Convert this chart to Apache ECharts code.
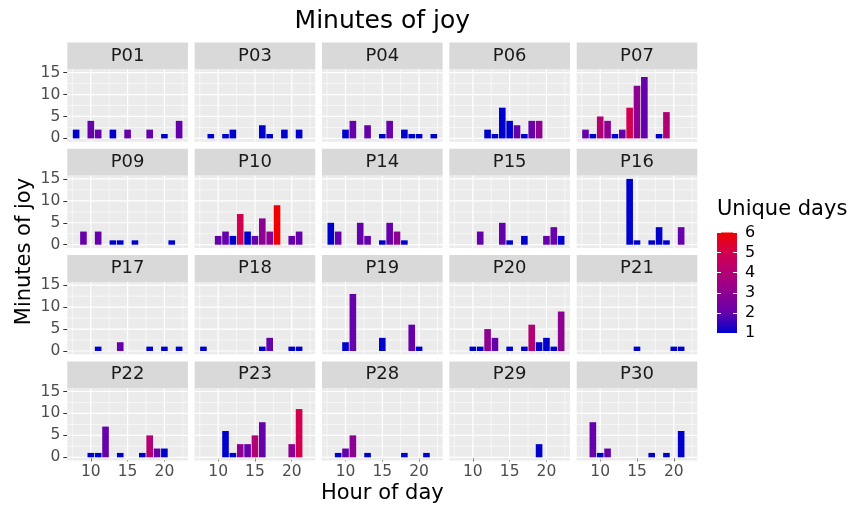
<!DOCTYPE html>
<html><head><meta charset="utf-8">
<script src="https://cdn.jsdelivr.net/npm/echarts@6/dist/echarts.min.js"></script>
<style>html,body{margin:0;padding:0;background:#fff}#c{width:850px;height:511px}</style>
</head><body><div id="c"></div>
<script>
// ---- data: [hour of day, minutes of joy, unique days] ----
const panelNames = ['P01','P03','P04','P06','P07','P09','P10','P14','P15','P16','P17','P18','P19','P20','P21','P22','P23','P28','P29','P30'];
const P01 = [[8,2,1],[10,4,2],[11,2,2],[13,2,1],[15,2,2],[18,2,2],[20,1,1],[22,4,2]];
const P03 = [[9,1,1],[11,1,1],[12,2,1],[16,3,1],[17,1,1],[19,2,1],[21,2,1]];
const P04 = [[10,2,1],[11,4,2],[13,3,2],[15,1,1],[16,4,2],[18,2,1],[19,1,1],[20,1,1],[22,1,1]];
const P06 = [[12,2,1],[13,1,1],[14,7,1],[15,4,1],[16,3,2],[17,1,1],[18,4,2],[19,4,3]];
const P07 = [[8,2,2],[9,1,1],[10,5,4],[11,4,3],[12,1,1],[13,2,2],[14,7,5],[15,12,3],[16,14,2],[18,1,1],[19,6,4]];
const P09 = [[9,3,2],[11,3,2],[13,1,1],[14,1,1],[16,1,1],[21,1,1]];
const P10 = [[10,2,2],[11,3,2],[12,2,1],[13,7,5],[14,3,1],[15,2,2],[16,6,3],[17,3,3],[18,9,6],[20,2,2],[21,3,2]];
const P14 = [[8,5,1],[9,3,2],[12,5,2],[13,2,2],[15,1,1],[16,5,2],[17,3,3],[18,1,1]];
const P15 = [[11,3,2],[14,5,2],[15,1,1],[17,2,1],[20,2,2],[21,4,2],[22,2,1]];
const P16 = [[14,15,1],[15,1,1],[17,1,1],[18,4,1],[19,1,1],[21,4,2]];
const P17 = [[11,1,1],[14,2,2],[18,1,1],[20,1,1],[22,1,1]];
const P18 = [[8,1,1],[16,1,1],[17,3,2],[20,1,1],[21,1,1]];
const P19 = [[10,2,1],[11,13,2],[15,3,1],[19,6,2],[20,1,1]];
const P20 = [[10,1,1],[11,1,1],[12,5,3],[13,3,2],[15,1,1],[17,1,1],[18,6,4],[19,2,1],[20,3,1],[21,1,1],[22,9,3]];
const P21 = [[15,1,1],[20,1,1],[21,1,1]];
const P22 = [[10,1,1],[11,1,1],[12,7,2],[14,1,1],[17,1,1],[18,5,4],[19,2,2],[20,2,1]];
const P23 = [[11,6,1],[12,1,1],[13,3,3],[14,3,2],[15,5,4],[16,8,2],[20,3,3],[21,11,5]];
const P28 = [[9,1,1],[10,2,2],[11,5,3],[13,1,1],[18,1,1],[21,1,1]];
const P29 = [[19,3,1]];
const P30 = [[9,8,2],[10,1,1],[11,2,2],[17,1,1],[19,1,1],[21,6,1]];
const panelData = [P01,P03,P04,P06,P07,P09,P10,P14,P15,P16,P17,P18,P19,P20,P21,P22,P23,P28,P29,P30];
const xTicks = [10,15,20];
const xMinor = [7.5,12.5,17.5,22.5];
const yTicks = [0,5,10,15];
const yMinor = [2.5,7.5,12.5];
const legendTicks = [1,2,3,4,5,6];
const legendColors = ['#0000CD','#6600AA','#8E0092','#B20075','#D20050','#F00000'];

// ---- layout / style ----
const X_MIN = 6.805, X_MAX = 23.195, Y_MIN = -0.75, Y_MAX = 15.75, BAR_W = 0.9;
const L0 = 67.3, DX = 127.35, PW = 120.6, T0 = 69.3, DY = 106.3, PH = 72.4, SH = 26.8;
const FONT = 'DejaVu Sans';

function gridRender(params, api){
  const ch = [];
  const add = (x1,y1,x2,y2,w) => {
    const a = api.coord([x1,y1]), b = api.coord([x2,y2]);
    ch.push({type:'line', shape:{x1:a[0],y1:a[1],x2:b[0],y2:b[1]}, style:{stroke:'#FFFFFF', lineWidth:w}});
  };
  xMinor.forEach(v => add(v,Y_MIN,v,Y_MAX,0.6));
  yMinor.forEach(v => add(X_MIN,v,X_MAX,v,0.6));
  xTicks.forEach(v => add(v,Y_MIN,v,Y_MAX,1.2));
  yTicks.forEach(v => add(X_MIN,v,X_MAX,v,1.2));
  return {type:'group', children:ch};
}
function barRender(params, api){
  const x = api.value(0), y = api.value(1);
  const p1 = api.coord([x - BAR_W/2, y]);
  const p2 = api.coord([x + BAR_W/2, 0]);
  return {type:'rect', shape:{x:p1[0], y:p1[1], width:p2[0]-p1[0], height:p2[1]-p1[1]},
          style:{fill: api.visual('color')}};
}

const grids=[], xAxes=[], yAxes=[], series=[], graphics=[], barIdx=[];
panelNames.forEach((name,i) => {
  const r = Math.floor(i/5), c = i%5;
  const left = L0 + c*DX, top = T0 + r*DY;
  const bottomRow = r === 3, firstCol = c === 0;
  grids.push({left, top, width:PW, height:PH, show:true, backgroundColor:'#EBEBEB', borderWidth:0});
  xAxes.push({gridIndex:i, type:'value', min:X_MIN, max:X_MAX,
    axisLine:{show:false}, splitLine:{show:false},
    axisTick:{show:bottomRow, customValues:xTicks, length:4, lineStyle:{color:'#333333', width:1}},
    axisLabel:{show:bottomRow, customValues:xTicks, fontSize:15.5, color:'#4D4D4D', margin:3, fontFamily:FONT}});
  yAxes.push({gridIndex:i, type:'value', min:Y_MIN, max:Y_MAX,
    axisLine:{show:false}, splitLine:{show:false},
    axisTick:{show:firstCol, customValues:yTicks, length:4, lineStyle:{color:'#333333', width:1}},
    axisLabel:{show:firstCol, customValues:yTicks, fontSize:15.5, color:'#4D4D4D', margin:7, fontFamily:FONT}});
  series.push({type:'custom', xAxisIndex:i, yAxisIndex:i, z:1, silent:true, data:[[15,7]], renderItem:gridRender});
  barIdx.push(series.length);
  series.push({type:'custom', name, xAxisIndex:i, yAxisIndex:i, z:2, data:panelData[i], encode:{x:0,y:1}, renderItem:barRender});
  graphics.push({type:'rect', shape:{x:left, y:top-SH, width:PW, height:SH}, style:{fill:'#D9D9D9'}, silent:true});
  graphics.push({type:'text', x:left+PW/2, y:top-SH/2, silent:true,
    style:{text:name, fontSize:18, fontFamily:FONT, fill:'#1A1A1A', align:'center', verticalAlign:'middle'}});
});

// legend colourbar as its own grid
const LG = panelNames.length;
grids.push({left:717, top:232.5, width:20, height:100.5, show:false});
xAxes.push({gridIndex:LG, type:'value', min:0, max:1, show:false});
yAxes.push({gridIndex:LG, type:'value', min:1, max:6, position:'left', z:5,
  axisLine:{show:false}, splitLine:{show:false}, axisLabel:{show:false},
  axisTick:{show:true, inside:true, customValues:legendTicks, length:4, lineStyle:{color:'#FFFFFF', width:1}}});
yAxes.push({gridIndex:LG, type:'value', min:1, max:6, position:'right', z:5,
  axisLine:{show:false}, splitLine:{show:false},
  axisTick:{show:true, inside:true, customValues:legendTicks, length:4, lineStyle:{color:'#FFFFFF', width:1}},
  axisLabel:{show:true, customValues:legendTicks, fontSize:16, color:'#000000', margin:8, fontFamily:FONT}});
const gradStops = legendColors.map((col,k) => ({offset: 1 - k/(legendColors.length-1), color: col})).sort((a,b)=>a.offset-b.offset);
series.push({type:'custom', xAxisIndex:LG, yAxisIndex:LG, z:1, silent:true, data:[[0.5,3.5]],
  renderItem:(params, api) => {
    const a = api.coord([0, legendTicks[legendTicks.length-1]]), b = api.coord([1, legendTicks[0]]);
    return {type:'rect', shape:{x:a[0], y:a[1], width:b[0]-a[0], height:b[1]-a[1]},
      style:{fill:new echarts.graphic.LinearGradient(0,0,0,1,gradStops)}};
  }});

const plotCenterX = L0 + (4*DX + PW)/2;
graphics.push({type:'text', x:plotCenterX, y:21, silent:true,
  style:{text:'Minutes of joy', fontSize:25, fontFamily:FONT, fill:'#000', align:'center', verticalAlign:'middle'}});
graphics.push({type:'text', x:plotCenterX, y:494, silent:true,
  style:{text:'Hour of day', fontSize:21, fontFamily:FONT, fill:'#000', align:'center', verticalAlign:'middle'}});
graphics.push({type:'text', x:25, y:T0 - SH + (3*DY + PH + SH)/2, rotation:Math.PI/2, silent:true,
  style:{text:'Minutes of joy', fontSize:21, fontFamily:FONT, fill:'#000', align:'center', verticalAlign:'middle'}});
graphics.push({type:'text', x:717, y:210, silent:true,
  style:{text:'Unique days', fontSize:21, fontFamily:FONT, fill:'#000', align:'left', verticalAlign:'middle'}});

const chart = echarts.init(document.getElementById('c'), null, {renderer:'canvas'});
chart.setOption({
  animation:false,
  backgroundColor:'#FFFFFF',
  grid:grids, xAxis:xAxes, yAxis:yAxes,
  visualMap:{show:false, type:'continuous', min:1, max:6, dimension:2, seriesIndex:barIdx, inRange:{color:legendColors}},
  series, graphic:graphics
});
</script></body></html>
